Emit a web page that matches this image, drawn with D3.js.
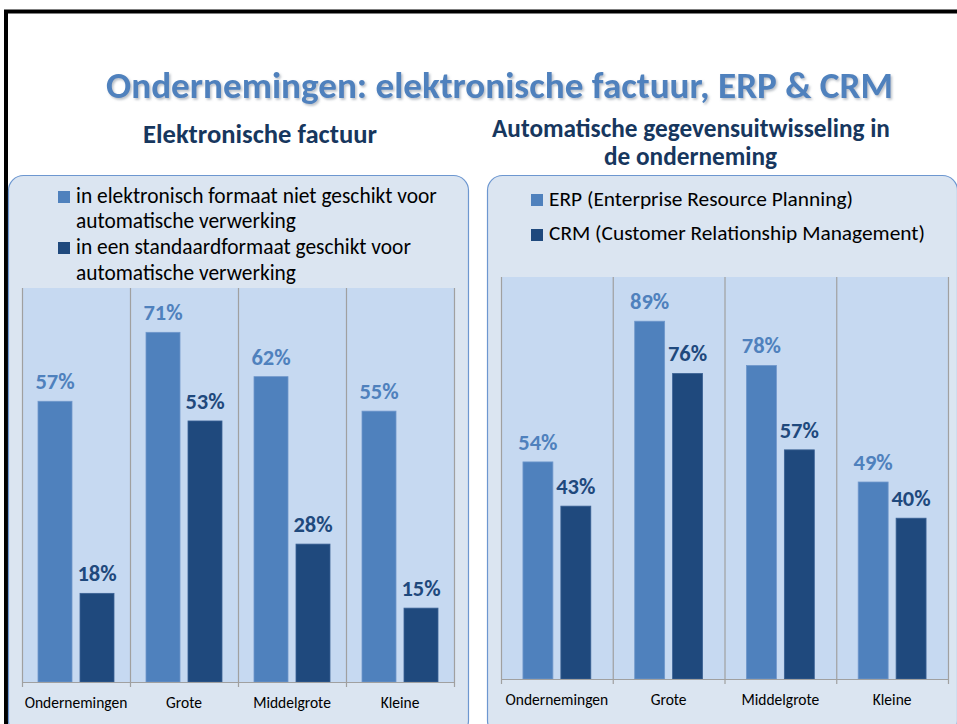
<!DOCTYPE html>
<html><head><meta charset="utf-8">
<script src="https://cdn.jsdelivr.net/npm/d3@7/dist/d3.min.js"></script>
<style>
html,body{margin:0;padding:0;background:#fff;}
svg{display:block;}
text{font-family:Carlito, Lato, "Open Sans", sans-serif;}
</style></head>
<body>
<svg id="c" width="957" height="724"></svg>
<script>
// ---- data ----
const mainTitle = "Ondernemingen: elektronische factuur, ERP & CRM";
const leftTitle = ["Elektronische factuur"];
const rightTitle = ["Automatische gegevensuitwisseling in", "de onderneming"];
const categories = ["Ondernemingen", "Grote", "Middelgrote", "Kleine"];
const leftSeriesNames = [["in elektronisch formaat niet geschikt voor", "automatische verwerking"],
                         ["in een standaardformaat geschikt voor", "automatische verwerking"]];
const leftNietGeschikt = [57, 71, 62, 55];
const leftStandaard = [18, 53, 28, 15];
const rightSeriesNames = [["ERP (Enterprise Resource Planning)"], ["CRM (Customer Relationship Management)"]];
const rightERP = [54, 89, 78, 49];
const rightCRM = [43, 76, 57, 40];

const colLight = "#4f81bd", colDark = "#1f497d";
const svg = d3.select("#c");

const defs = svg.append("defs");
const f = defs.append("filter").attr("id", "sh").attr("x", "-5%").attr("y", "-20%").attr("width", "110%").attr("height", "150%");
f.append("feDropShadow").attr("dx", 1.5).attr("dy", 1.8).attr("stdDeviation", 0.8)
  .attr("flood-color", "#7f8a99").attr("flood-opacity", 0.55);

function fit(t, target, base) {
  t.attr("font-size", base);
  const w = t.node().getComputedTextLength();
  t.attr("font-size", (base * target / w).toFixed(2));
}

// slide frame
svg.append("rect").attr("x", 6).attr("y", 11.5).attr("width", 1000).attr("height", 800)
  .attr("fill", "#fff").attr("stroke", "#000").attr("stroke-width", 4);

// main title with shadow
const tMain = svg.append("text").attr("x", 499.5).attr("y", 98).attr("text-anchor", "middle")
  .attr("font-weight", "bold").attr("fill", colLight).attr("filter", "url(#sh)").text(mainTitle);
fit(tMain, 787, 32);

// subtitles
const st1 = svg.append("text").attr("x", 260).attr("y", 143).attr("text-anchor", "middle")
  .attr("font-weight", "bold").attr("fill", "#17375e").text(leftTitle[0]);
fit(st1, 234, 21);
const st2 = svg.append("text").attr("x", 691).attr("y", 137).attr("text-anchor", "middle")
  .attr("font-weight", "bold").attr("fill", "#17375e").text(rightTitle[0]);
fit(st2, 398, 21);
const st3 = svg.append("text").attr("x", 690.5).attr("y", 165).attr("text-anchor", "middle")
  .attr("font-weight", "bold").attr("fill", "#17375e").text(rightTitle[1]);
fit(st3, 173, 21);

// panels
svg.append("rect").attr("x", 8.5).attr("y", 175.5).attr("width", 460).attr("height", 560).attr("rx", 15)
  .attr("fill", "#dbe5f1").attr("stroke", "#6d97d0").attr("stroke-width", 1.2);
svg.append("rect").attr("x", 487.5).attr("y", 175.5).attr("width", 470).attr("height", 560).attr("rx", 15)
  .attr("fill", "#dbe5f1").attr("stroke", "#6d97d0").attr("stroke-width", 1.2);

function chart(cfg) {
  const g = svg.append("g");
  const x = d3.scaleBand().domain(categories).range([cfg.x0, cfg.x1]).paddingInner(0).paddingOuter(0);
  const xs = d3.scaleBand().domain([0, 1]).range([0, x.bandwidth()])
    .paddingInner(cfg.pi).paddingOuter(cfg.po);
  const y = d3.scaleLinear().domain([0, cfg.max]).range([cfg.yb, cfg.yt]);

  g.append("rect").attr("x", cfg.x0).attr("y", cfg.yt).attr("width", cfg.x1 - cfg.x0)
    .attr("height", cfg.yb - cfg.yt).attr("fill", "#c6d9f1");
  // category separators
  const bounds = categories.map(c => x(c)).concat([cfg.x1]);
  g.selectAll("line.sep").data(bounds).join("line")
    .attr("x1", d => d + 0.5).attr("x2", d => d + 0.5)
    .attr("y1", cfg.yt).attr("y2", cfg.yb + 5)
    .attr("stroke", "#a0a0a0").attr("stroke-width", 1.2);

  const series = [{vals: cfg.s1, col: colLight}, {vals: cfg.s2, col: colDark}];
  series.forEach((s, si) => {
    g.selectAll("rect.b" + si).data(categories).join("rect")
      .attr("x", c => x(c) + xs(si)).attr("width", xs.bandwidth())
      .attr("y", (c, i) => y(s.vals[i])).attr("height", (c, i) => cfg.yb - y(s.vals[i]))
      .attr("fill", s.col).attr("stroke", si === 0 ? "#6f97cb" : "#3a6194").attr("stroke-width", 0.8);
    g.selectAll("text.l" + si).data(categories).join("text")
      .attr("x", c => x(c) + xs(si) + xs.bandwidth() / 2)
      .attr("y", (c, i) => y(s.vals[i]) - 12)
      .attr("text-anchor", "middle").attr("font-weight", "bold").attr("font-size", 22.5)
      .attr("fill", s.col).text((c, i) => s.vals[i] + "%");
  });
  // axis line
  g.append("line").attr("x1", cfg.x0).attr("x2", cfg.x1 + 1).attr("y1", cfg.yb + 0.5).attr("y2", cfg.yb + 0.5)
    .attr("stroke", "#a0a0a0").attr("stroke-width", 1.2);
  // category labels
  g.selectAll("text.cat").data(categories).join("text")
    .attr("x", c => x(c) + x.bandwidth() / 2).attr("y", cfg.yb + 26)
    .attr("text-anchor", "middle").attr("font-size", 15.5).attr("fill", "#000").text(c => c);

  // legend
  cfg.legend.forEach((L, li) => {
    svg.append("rect").attr("x", cfg.lx).attr("y", L.sqy).attr("width", 12).attr("height", 12)
      .attr("fill", li === 0 ? colLight : colDark);
    L.lines.forEach((ln, k) => {
      const t = svg.append("text").attr("x", cfg.lx + 18).attr("y", L.ys[k]).attr("fill", "#000").text(ln);
      fit(t, L.ws[k], 18);
    });
  });
}

chart({x0: 22, x1: 454, yt: 288, yb: 682, max: 80, pi: 8 / 42, po: 16 / 42,
  s1: leftNietGeschikt, s2: leftStandaard, lx: 58,
  legend: [
    {sqy: 191, lines: leftSeriesNames[0], ys: [203, 228], ws: [361, 220]},
    {sqy: 242, lines: leftSeriesNames[1], ys: [254, 280], ws: [335, 220]}
  ]});
chart({x0: 501, x1: 948, yt: 277, yb: 679, max: 100, pi: 8 / 38, po: 22 / 38,
  s1: rightERP, s2: rightCRM, lx: 531,
  legend: [
    {sqy: 194, lines: rightSeriesNames[0], ys: [206], ws: [304]},
    {sqy: 229, lines: rightSeriesNames[1], ys: [240], ws: [376]}
  ]});
</script>
</body></html>
